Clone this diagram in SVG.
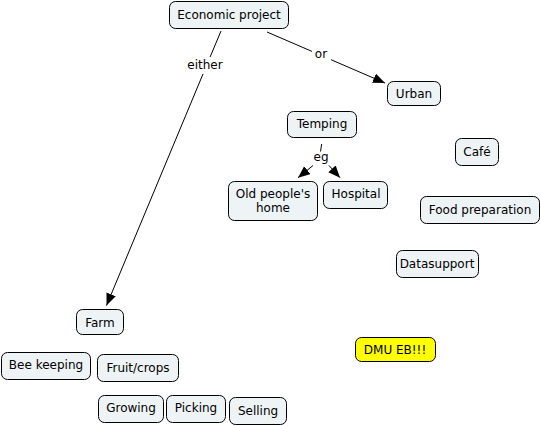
<svg xmlns="http://www.w3.org/2000/svg" width="541" height="426" viewBox="0 0 541 426">
<style>
.n rect{fill:#eef3f5;stroke:#000;stroke-width:1}
.n.y rect{fill:#ffff00}
text{font-family:"DejaVu Sans",Verdana,sans-serif;font-size:12px;fill:#000;text-anchor:middle}
.c line{stroke:#000;stroke-width:1}
</style>
<defs>
<marker id="ah" markerUnits="userSpaceOnUse" markerWidth="13" markerHeight="11" refX="12" refY="5" orient="auto" viewBox="0 0 13 11">
<path d="M0,0 L12,5 L0,10 z" fill="#000"/>
</marker>
</defs>
<rect width="541" height="426" fill="#fff"/>
<g id="connectors" class="c">
<line x1="221" y1="31" x2="210.1" y2="57"/>
<line x1="203" y1="74" x2="106.5" y2="305.5" marker-end="url(#ah)"/>
<text x="205" y="69">either</text>
<line x1="267" y1="32" x2="312" y2="51.4"/>
<line x1="331" y1="59.7" x2="385" y2="83" marker-end="url(#ah)"/>
<text x="321" y="58">or</text>
<line x1="321.7" y1="144" x2="320.5" y2="151.5"/>
<text x="321" y="161">eg</text>
<line x1="313" y1="165.5" x2="298" y2="177.7" marker-end="url(#ah)"/>
<line x1="329" y1="165.5" x2="340" y2="177.7" marker-end="url(#ah)"/>
</g>
<g id="economic-project" class="n"><rect x="169.5" y="1.5" width="119" height="27" rx="6"/><text x="229" y="19">Economic project</text></g>
<g id="urban" class="n"><rect x="387.5" y="81.5" width="53" height="24" rx="6"/><text x="414" y="98">Urban</text></g>
<g id="temping" class="n"><rect x="287.5" y="111.5" width="69" height="26" rx="6"/><text x="322" y="128">Temping</text></g>
<g id="cafe" class="n"><rect x="455.5" y="138.5" width="43" height="27" rx="6"/><text x="477" y="156">Café</text></g>
<g id="old-peoples-home" class="n"><rect x="228.5" y="181.5" width="89" height="39" rx="6"/><text x="273" y="198">Old people's</text><text x="273" y="212">home</text></g>
<g id="hospital" class="n"><rect x="323.5" y="181.5" width="64" height="27" rx="6"/><text x="356" y="198">Hospital</text></g>
<g id="food-preparation" class="n"><rect x="420.5" y="196.5" width="119" height="27" rx="6"/><text x="480" y="214">Food preparation</text></g>
<g id="datasupport" class="n"><rect x="396.5" y="250.5" width="82" height="27" rx="6"/><text x="437" y="268">Datasupport</text></g>
<g id="farm" class="n"><rect x="76.5" y="309.5" width="47" height="25" rx="6"/><text x="100" y="327">Farm</text></g>
<g id="dmu-eb" class="n y"><rect x="355.5" y="337.5" width="80" height="24" rx="6"/><text x="395" y="354">DMU EB!!!</text></g>
<g id="bee-keeping" class="n"><rect x="1.5" y="352.5" width="89" height="27" rx="6"/><text x="46" y="369">Bee keeping</text></g>
<g id="fruit-crops" class="n"><rect x="97.5" y="354.5" width="81" height="27" rx="6"/><text x="138" y="372">Fruit/crops</text></g>
<g id="growing" class="n"><rect x="98.5" y="395.5" width="65" height="27" rx="6"/><text x="131" y="412">Growing</text></g>
<g id="picking" class="n"><rect x="166.5" y="395.5" width="59" height="27" rx="6"/><text x="196" y="412">Picking</text></g>
<g id="selling" class="n"><rect x="229.5" y="397.5" width="57" height="27" rx="6"/><text x="258" y="415">Selling</text></g>
</svg>
